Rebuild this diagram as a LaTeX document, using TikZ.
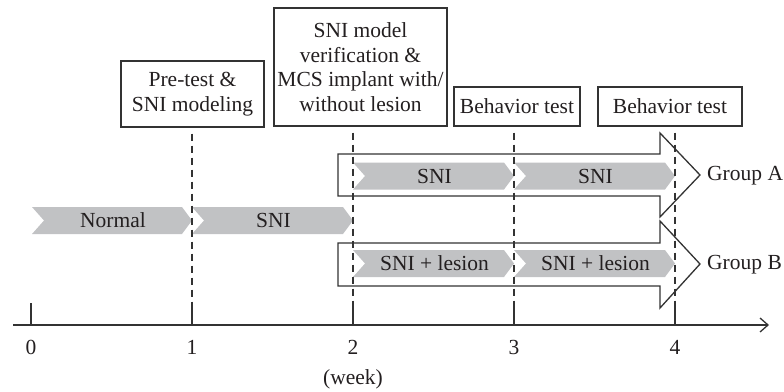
\documentclass[tikz,border=0pt]{standalone}
\usepackage{fontspec}
\setmainfont{Liberation Serif}
\usetikzlibrary{arrows.meta,calc}

\definecolor{ink}{HTML}{231F20}
\definecolor{edge}{HTML}{333333}
\definecolor{barfill}{HTML}{C1C2C4}

% gray chevron bar from x=#2 to x=#3 centred at height #4, labelled #5
\newcommand{\chevbar}[5]{%
  \fill[barfill] (#2,#4-13.5) -- (#3-10,#4-13.5) -- (#3,#4) -- (#3-10,#4+13.5)
    -- (#2,#4+13.5) -- (#2+12,#4) -- cycle;
  \node[bartext] (#1) at ({(#2+#3)/2+1},#4) {#5};}

\begin{document}
\begin{tikzpicture}[x=1pt,y=-1pt,
  font=\fontsize{21.5}{24.5}\selectfont, text=ink,
  stage/.style={draw=edge, line width=1.3pt, fill=white, align=center, inner sep=0pt},
  guide/.style={draw=edge, line width=1.3pt, dash pattern=on 7pt off 5pt},
  groupshape/.style={draw=edge, line width=1.3pt, line join=miter},
  bartext/.style={inner sep=0pt},
  axisline/.style={draw=edge, line width=1.3pt},
  ticklabel/.style={inner sep=0pt}]
\useasboundingbox (0,0) rectangle (784,391);

% event boxes
\node[stage, minimum width=143pt, minimum height=66pt] (b1) at (192.5,94)
  {Pre-test \&\\SNI modeling};
\node[stage, minimum width=173pt, minimum height=118pt] (b2) at (360.5,67)
  {SNI model\\verification \&\\MCS implant with/\\without lesion};
\node[stage, minimum width=126pt, minimum height=39pt] (b3) at (517,106.5)
  {Behavior test};
\node[stage, minimum width=144pt, minimum height=39pt] (b4) at (670,106.5)
  {Behavior test};

% time axis
\coordinate (ax0) at (13,325);
\coordinate (ax1) at (769,325);
\draw[axisline, -{Straight Barb[length=8pt,width=14pt,line width=1.3pt]}] (ax0) -- (ax1);
\foreach \i/\x in {0/31,1/192,2/353,3/514,4/675}{
  \coordinate (t\i) at (\x,325);
  \coordinate (u\i) at (\x,303);
  \draw[axisline] (t\i) -- (u\i);
  \node[ticklabel] (l\i) at (\x,347) {\i};
}
\node[inner sep=0pt] (unit) at (353,379) {(week)};

% group arrows
\draw[groupshape] (338,154) -- (660,154) -- (660,133) -- (700,175) -- (660,217)
  -- (660,196) -- (338,196) -- cycle;
\draw[groupshape] (338,243) -- (660,243) -- (660,221) -- (700,264) -- (660,308)
  -- (660,286) -- (338,286) -- cycle;
\node[anchor=west, inner sep=0pt] (ga) at (707,176) {Group A};
\node[anchor=west, inner sep=0pt] (gb) at (707,265) {Group B};

% phase bars
\chevbar{normal}{32}{192}{220.5}{Normal}
\chevbar{sni0}{192}{353}{220.5}{SNI}
\chevbar{snia1}{353}{514}{176}{SNI}
\chevbar{snia2}{514}{675}{176}{SNI}
\chevbar{snib1}{353}{514}{263.5}{SNI + lesion}
\chevbar{snib2}{514}{675}{263.5}{SNI + lesion}

% guide lines from each event down to its tick
\draw[guide] ($(t1 |- b1.south)+(0,6)$) -- (u1);
\draw[guide] ($(t2 |- b2.south)+(0,6)$) -- (u2);
\draw[guide] ($(t3 |- b3.south)+(0,6)$) -- (u3);
\draw[guide] ($(t4 |- b4.south)+(0,6)$) -- (u4);
\end{tikzpicture}
\end{document}
